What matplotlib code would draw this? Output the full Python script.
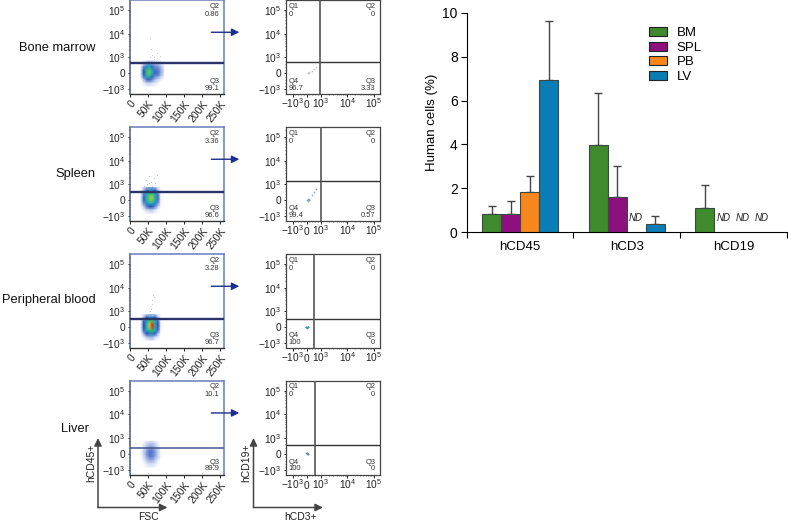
import numpy as np
import matplotlib
matplotlib.use("Agg")
import matplotlib.pyplot as plt
from matplotlib.colors import LinearSegmentedColormap

plt.rcParams['font.family'] = ['Liberation Sans', 'DejaVu Sans']
W, H = 788, 521

# bar chart values, NaN = not detected
groups = ["hCD45", "hCD3", "hCD19"]
tissues = ["BM", "SPL", "PB", "LV"]
tissue_colors = ["#3f8a2c", "#8e0f7e", "#f7861d", "#0a7cb6"]
bm_vals = [0.83, 3.96, 1.09]
spl_vals = [0.82, 1.59, np.nan]
pb_vals = [1.85, np.nan, np.nan]
lv_vals = [6.95, 0.39, np.nan]
bm_top = [1.21, 6.36, 2.17]
spl_top = [1.41, 3.03, np.nan]
pb_top = [2.58, np.nan, np.nan]
lv_top = [9.60, 0.76, np.nan]

# flow panels
organs = ["Bone marrow", "Spleen", "Peripheral blood", "Liver"]
panel_tops = [0.3, 127.3, 254.3, 381]
q2_left = ["0.86", "3.36", "3.28", "10.1"]
q3_left = ["99.1", "96.6", "96.7", "89.9"]
q3_right = ["3.33", "0.57", "0", "0"]
q4_right = ["96.7", "99.4", "100", "100"]
left_gate = [680, 550, 515, 395]
right_gate_y = [700, 1445, 550, 560]
right_gate_x = [950, 1000, 540, 610]

# density (0 = none, 5 = red)
dens_x = [30, 38, 46, 54, 62, 70, 78, 86, 94]
dens_y = [800, 600, 400, 200, 0, -200, -400, -600, -800]
dens_bm = [[0, 0, .2, .2, .2, .2, .1, 0, 0],
           [0, .6, 1.2, 1.4, 1.2, 1, .9, .5, .1],
           [.2, 1.5, 2.6, 3, 2.3, 1.5, 1.4, 1, .3],
           [.3, 1.9, 3.6, 4.2, 3, 1.7, 1.6, 1.2, .4],
           [.4, 2, 3.8, 4.4, 3.1, 1.8, 1.7, 1.2, .4],
           [.3, 1.7, 3.1, 3.4, 2.4, 1.5, 1.3, .8, .2],
           [0, 1, 1.7, 1.9, 1.5, 1, .6, .3, 0],
           [0, .3, .7, .8, .6, .4, .1, 0, 0],
           [0, 0, .1, .2, .1, 0, 0, 0, 0]]
dens_spl = [[0, .5, 1, 1.3, 1.3, 1, .4, 0, 0],
            [.1, 1, 2.1, 2.7, 2.7, 2, 1, .1, 0],
            [.2, 1.6, 3, 3.9, 4, 3, 1.6, .1, 0],
            [.3, 1.8, 3.2, 4.4, 4.6, 3.3, 1.8, .2, 0],
            [.3, 1.8, 3.2, 4.3, 4.4, 3.2, 1.7, .2, 0],
            [.2, 1.4, 2.7, 3.2, 3.2, 2.6, 1.4, .1, 0],
            [0, .8, 1.6, 2, 2, 1.5, .7, 0, 0],
            [0, .2, .6, .8, .8, .5, .1, 0, 0],
            [0, 0, .1, .2, .2, .1, 0, 0, 0]]
dens_pb = [[0, .2, .7, 1, 1, .7, .2, 0, 0],
           [0, 1, 2, 2.6, 2.7, 2, 1, 0, 0],
           [.1, 1.8, 3, 4, 4.2, 3, 1.8, .1, 0],
           [.2, 2, 3.3, 4.7, 5.2, 3.4, 2, .2, 0],
           [.2, 2, 3.3, 4.7, 5.4, 3.4, 2, .2, 0],
           [.1, 1.8, 3, 3.8, 4, 3, 1.8, .1, 0],
           [0, 1.1, 2, 2.5, 2.5, 1.9, 1, 0, 0],
           [0, .3, .9, 1.2, 1.2, .8, .3, 0, 0],
           [0, 0, .1, .3, .3, .1, 0, 0, 0]]
dens_lv = [[0, .1, .3, .5, .5, .3, .1, 0, 0],
           [0, .3, .6, .9, .9, .7, .3, 0, 0],
           [0, .5, 1, 1.3, 1.3, 1, .5, .1, 0],
           [.1, .6, 1.2, 1.6, 1.6, 1.2, .7, .1, 0],
           [.1, .6, 1.3, 1.7, 1.6, 1.3, .7, .1, 0],
           [0, .5, 1.1, 1.5, 1.5, 1.1, .6, .1, 0],
           [0, .3, .8, 1.1, 1.1, .8, .3, 0, 0],
           [0, .1, .4, .6, .6, .4, .1, 0, 0],
           [0, 0, .1, .2, .2, .1, 0, 0, 0]]
densities = [dens_bm, dens_spl, dens_pb, dens_lv]

# sparse events above the gate (FSC in K, hCD45)
sparse_x = [[50, 56, 62, 68, 74, 84, 58, 66, 56],
            [38, 44, 52, 58, 66, 74, 48, 62, 70, 54],
            [53, 58, 62, 68, 55, 60, 65, 60],
            [48, 60, 70]]
sparse_y = [[800, 1000, 1300, 1000, 1600, 1200, 2200, 900, 6500],
            [900, 1500, 2200, 1300, 1800, 2500, 1000, 900, 1200, 1100],
            [800, 1300, 2000, 4000, 1000, 3000, 5000, 800],
            [500, 700, 450]]

# events in the right panels (hCD3, hCD19)
dots_x = [[80, 150, 120, 350, 500, 650, 180],
          [40, 80, 120, 150, 200, 170, 400, 520, 650, 100],
          [-60, -20, 20, 60, 100, 0, 40, -40, 80],
          [-30, 0, 30, 60, 90, 20, 50]]
dots_y = [[30, 50, 10, 150, 250, 400, 80],
          [0, 40, 60, 30, 90, 10, 350, 500, 700, -20],
          [20, 0, 10, 30, 20, 40, -10, 10, 0],
          [80, 60, 40, 30, 20, 50, 20]]
dots_color = ["#c4c8cc", "#8ea4bf", "#3f9c9c", "#6f8cb0"]

flow_cmap = LinearSegmentedColormap.from_list(
    "flow", ["#ffffff", "#a9bde8", "#2a4cb8", "#1fa8c8", "#35c060", "#e8d840"])
flow_cmap.set_over("#e03020")


def biex(v, decade):
    v = np.asarray(v, dtype=float)
    return np.where(v <= 1000, v / 1000, 1 + decade * (np.log10(np.maximum(v, 1000)) - 3))


def biex_inv(u, decade):
    u = np.asarray(u, dtype=float)
    return np.where(u <= 1, u * 1000, 10 ** (3 + (np.clip(u, 1, 8) - 1) / decade))


def scale_funcs(decade):
    return (lambda v: biex(v, decade), lambda u: biex_inv(u, decade))


def add_ax(fig, x0, top, w, h):
    return fig.add_axes([x0 / W, 1 - (top + h) / H, w / W, h / H])


major_vals = [-1000, 0, 1000, 10000, 100000]
major_labels = [r"$\mathdefault{-10^{3}}$", "0", r"$\mathdefault{10^{3}}$",
                r"$\mathdefault{10^{4}}$", r"$\mathdefault{10^{5}}$"]
minor_vals = [-800, -600, -400, -200, 200, 400, 600, 800,
              2000, 3000, 4000, 5000, 6000, 7000, 8000, 9000,
              20000, 30000, 40000, 50000, 60000, 70000, 80000, 90000, 200000]


def set_log_y(ax):
    ax.set_yscale('function', functions=scale_funcs(1.47))
    ax.set_ylim(-1300, 262144)
    ax.set_yticks(major_vals, major_labels)
    ax.set_yticks(minor_vals, minor=True)
    ax.tick_params(axis='y', which='major', length=1.8, width=0.7, pad=1.5, labelsize=7.3, colors='#222222')
    ax.tick_params(axis='y', which='minor', length=1.0, width=0.4, colors='#222222')


def q_text(ax, x, y, s, ha):
    ax.text(x, 1 - y / 94, s, transform=ax.transAxes, fontsize=5.4, ha=ha, va='center', color='#333333')


fig = plt.figure(figsize=(W / 100, H / 100), dpi=100)

for i, top in enumerate(panel_tops):
    # FSC vs hCD45
    ax = add_ax(fig, 130, top, 94, 94)
    set_log_y(ax)
    ax.set_xlim(0, 262)
    ax.set_xticks([0, 50, 100, 150, 200, 250], ["0", "50K", "100K", "150K", "200K", "250K"],
                  rotation=52, ha='right', rotation_mode='anchor')
    ax.tick_params(axis='x', length=1.8, width=0.7, pad=1.5, labelsize=7.5, colors='#222222')
    ax.pcolormesh(dens_x, dens_y, np.array(densities[i]), cmap=flow_cmap, vmin=0, vmax=5,
                  shading='gouraud', zorder=1, rasterized=True)
    ax.scatter(sparse_x[i], sparse_y[i], s=0.6, color='#b4c0d8', linewidths=0, zorder=1.5)
    gate_lw = 1.1 if i == 3 else 1.7
    gate_col = '#44558f' if i == 3 else '#2a3468'
    ax.axhline(left_gate[i], color=gate_col, lw=gate_lw, zorder=3)
    for side in ['top', 'right', 'left']:
        ax.spines[side].set_color('#6a7cbc')
        ax.spines[side].set_linewidth(1.1)
    ax.spines['left'].set_color('#4d5a8c')
    ax.spines['bottom'].set_color('#333333')
    ax.spines['bottom'].set_linewidth(1.0)
    q_text(ax, 0.95, 6, "Q2", 'right')
    q_text(ax, 0.95, 14, q2_left[i], 'right')
    q_text(ax, 0.95, 81, "Q3", 'right')
    q_text(ax, 0.95, 88, q3_left[i], 'right')
    ax.annotate("", xy=(1.163, 0.66), xytext=(0.865, 0.66), xycoords='axes fraction',
                arrowprops=dict(arrowstyle='-|>,head_width=0.22,head_length=0.45', color='#1c2f8a', lw=1.0,
                                shrinkA=0, shrinkB=0), annotation_clip=False)

    # hCD3 vs hCD19
    ax2 = add_ax(fig, 285.7, top, 94.3, 94)
    set_log_y(ax2)
    ax2.set_xscale('function', functions=scale_funcs(1.9))
    ax2.set_xlim(-1500, 170000)
    ax2.set_xticks(major_vals, major_labels)
    ax2.set_xticks(minor_vals[:-1], minor=True)
    ax2.tick_params(axis='x', which='major', length=1.8, width=0.7, pad=8, labelsize=7.3, colors='#222222')
    ax2.tick_params(axis='x', which='minor', length=1.0, width=0.4, colors='#222222')
    for t in ax2.get_xticklabels():
        t.set_va('baseline')
    ax2.scatter(dots_x[i], dots_y[i], s=1.5, color=dots_color[i], linewidths=0, zorder=2)
    ax2.axhline(right_gate_y[i], color='#333333', lw=1.0, zorder=3)
    ax2.axvline(right_gate_x[i], color='#555555', lw=1.2, zorder=3)
    for side in ax2.spines:
        ax2.spines[side].set_color('#444444')
        ax2.spines[side].set_linewidth(0.9)
    q_text(ax2, 0.03, 6, "Q1", 'left')
    q_text(ax2, 0.03, 14, "0", 'left')
    q_text(ax2, 0.95, 6, "Q2", 'right')
    q_text(ax2, 0.95, 14, "0", 'right')
    q_text(ax2, 0.03, 81, "Q4", 'left')
    q_text(ax2, 0.03, 88, q4_right[i], 'left')
    q_text(ax2, 0.95, 81, "Q3", 'right')
    q_text(ax2, 0.95, 88, q3_right[i], 'right')

label_y = [48, 174, 300, 429]
label_x = [95.5, 95.5, 95.5, 89]
for name, lx, ly in zip(organs, label_x, label_y):
    fig.text(lx / W, 1 - ly / H, name, fontsize=9.3, ha='right', va='center', color='#111111')

# axis arrows under the bottom row
overlay = fig.add_axes([0, 0, 1, 1], facecolor='none')
overlay.set_xlim(0, W)
overlay.set_ylim(H, 0)
overlay.axis('off')
for x0, x1 in [(98, 167.5), (253.5, 323)]:
    for end in [(x0, 438), (x1, 507.5)]:
        overlay.annotate("", xy=end, xytext=(x0, 507.5),
                         arrowprops=dict(arrowstyle='-|>,head_width=0.22,head_length=0.45', color='#444444', lw=1.1,
                                         shrinkA=0, shrinkB=0))
overlay.text(91, 463, "hCD45+", rotation=90, fontsize=7.5, ha='center', va='center', color='#222222')
overlay.text(246, 463, "hCD19+", rotation=90, fontsize=7.5, ha='center', va='center', color='#222222')
overlay.text(148.5, 517, "FSC", fontsize=7.5, ha='center', va='center', color='#222222')
overlay.text(300.5, 517, "hCD3+", fontsize=7.5, ha='center', va='center', color='#222222')

# bar chart
bar_ax = add_ax(fig, 466.7, 12.7, 320, 219.6)
series_vals = [bm_vals, spl_vals, pb_vals, lv_vals]
series_top = [bm_top, spl_top, pb_top, lv_top]
bar_w = 0.178
x = np.arange(len(groups)) + 0.5
for j, (name, col) in enumerate(zip(tissues, tissue_colors)):
    pos = x + (j - 1.5) * bar_w
    vals = np.array(series_vals[j])
    tops = np.array(series_top[j])
    bar_ax.bar(pos, vals, bar_w, color=col, edgecolor='#3a4a40', linewidth=0.8, label=name, zorder=3)
    bar_ax.errorbar(pos, vals, yerr=[np.zeros(len(vals)), tops - vals], fmt='none', ecolor='#444444',
                    elinewidth=1.0, capsize=3, capthick=1.0, zorder=2)
    for k in range(len(groups)):
        if np.isnan(vals[k]):
            bar_ax.text(pos[k], 0.63, "ND", fontsize=7, style='italic', ha='center', va='center', color='#222222')

bar_ax.set_xlim(0, 3)
bar_ax.set_ylim(0, 10)
bar_ax.set_xticks([0, 1, 2, 3], [])
bar_ax.set_xticks(x, groups, minor=True)
bar_ax.set_yticks([0, 2, 4, 6, 8, 10])
bar_ax.tick_params(axis='x', which='major', length=4, width=0.8)
bar_ax.tick_params(axis='x', which='minor', length=0, pad=6, labelsize=9.5)
bar_ax.tick_params(axis='y', length=4, width=0.8, pad=2.5, labelsize=10)
bar_ax.set_ylabel("Human cells (%)", fontsize=9.5, labelpad=3)
bar_ax.spines['top'].set_visible(False)
bar_ax.spines['right'].set_visible(False)
bar_ax.patch.set_alpha(0)
leg = bar_ax.legend(loc='upper left', bbox_to_anchor=(0.57, 0.935), frameon=False, fontsize=9.5,
                    handlelength=1.34, handleheight=0.66, labelspacing=0.2, handletextpad=0.76,
                    borderpad=0, borderaxespad=0)
for p in leg.get_patches():
    p.set_edgecolor('#222222')

fig.savefig("out.png", dpi=100)
